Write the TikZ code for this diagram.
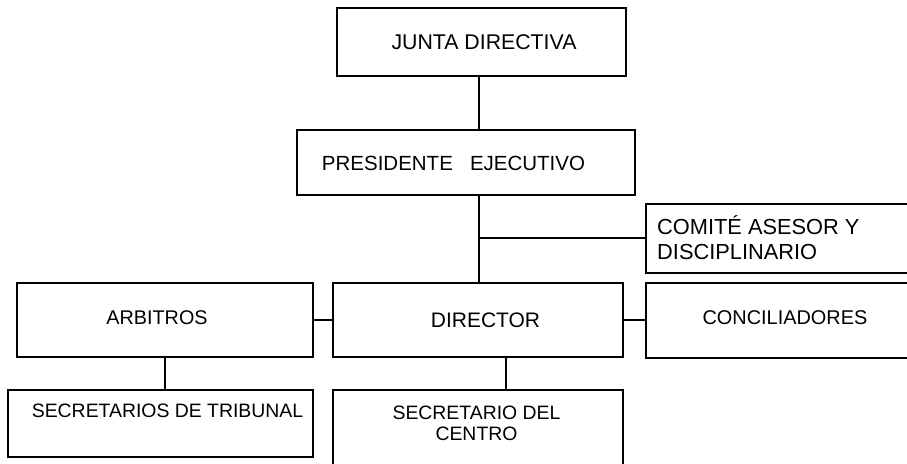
\documentclass[tikz,border=0pt]{standalone}
\usepackage{fontspec}
\setmainfont{Liberation Sans}
\newcommand{\fsz}[2]{\fontsize{#1}{#2}\selectfont}
\begin{document}
\begin{tikzpicture}[x=1pt,y=-1pt,
  box/.style={draw, line width=1.5pt, rectangle, inner sep=0pt},
  lbl/.style={inner sep=0pt},
  conn/.style={line width=1.5pt}]
\useasboundingbox (0,0) rectangle (907,463);
\clip (0,0) rectangle (907,463);
% boxes
\node[box, minimum width=289pt, minimum height=68pt] (junta) at (481.5,42) {};
\node[box, minimum width=338pt, minimum height=65pt] (pres) at (466,162.5) {};
\node[box, minimum width=294pt, minimum height=69pt] (com) at (793,238.5) {};
\node[box, minimum width=290pt, minimum height=74pt] (dir) at (478,320) {};
\node[box, minimum width=296pt, minimum height=74pt] (arb) at (165,320) {};
\node[box, minimum width=294pt, minimum height=75pt] (conc) at (793,320.5) {};
\node[box, minimum width=305pt, minimum height=67pt] (sectrib) at (160.5,423.5) {};
\node[box, minimum width=290pt, minimum height=90pt] (seccen) at (478,435) {};
% labels
\node[lbl, font=\fsz{21.3}{25}] (juntal) at (484,42) {JUNTA DIRECTIVA};
\node[lbl, font=\fsz{20.5}{25}] (presl) at (453.5,163) {PRESIDENTE~~~EJECUTIVO};
\node[lbl, anchor=west, align=left, font=\fsz{21.8}{25}] (coml) at (657,237.5) {COMITÉ ASESOR Y\\DISCIPLINARIO};
\node[lbl, font=\fsz{21}{25}] (dirl) at (485.5,320) {DIRECTOR};
\node[lbl, font=\fsz{19.8}{24}] (arbl) at (157,318) {ARBITROS};
\node[lbl, font=\fsz{19.9}{24}] (concl) at (785,318) {CONCILIADORES};
\node[lbl, font=\fsz{19.4}{24}] (sectribl) at (167.5,411) {SECRETARIOS DE TRIBUNAL};
\node[lbl, align=center, font=\fsz{19.4}{21.5}] (seccenl) at (476.5,423.5) {SECRETARIO DEL\\CENTRO};
% connectors
\coordinate (sp) at (479,0);
\coordinate (dx) at (506,0);
\coordinate (br) at (479,238);
\draw[conn] (sp |- junta.south) -- (sp |- pres.north);
\draw[conn] (sp |- pres.south) -- (sp |- dir.north);
\draw[conn] (br) -- (br -| com.west);
\draw[conn] (arb.east) -- (dir.west);
\draw[conn] (dir.east) -- (dir.east -| conc.west);
\draw[conn] (arb.south) -- (arb.south |- sectrib.north);
\draw[conn] (dx |- dir.south) -- (dx |- seccen.north);
\end{tikzpicture}
\end{document}
